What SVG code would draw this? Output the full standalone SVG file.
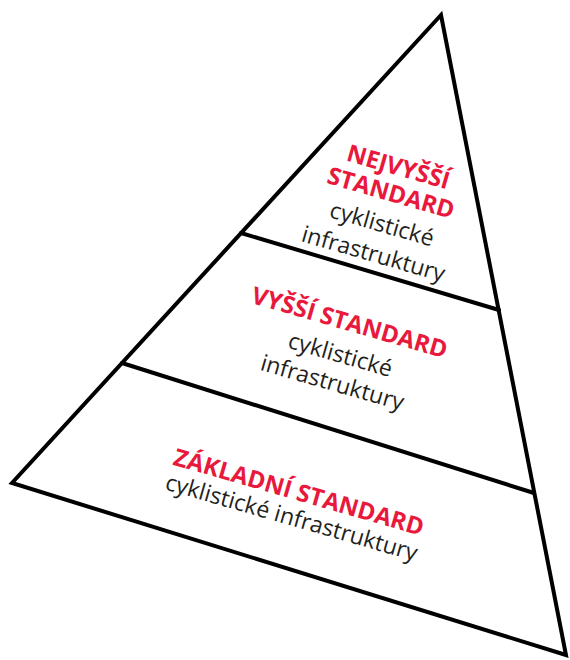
<svg xmlns="http://www.w3.org/2000/svg" width="570" height="660" viewBox="0 0 570 660">
<style>
.edge{fill:none;stroke:#000;stroke-width:4;stroke-linejoin:miter;stroke-linecap:round}
.red{font-family:"Open Sans",sans-serif;font-weight:700;font-size:24px;fill:#e8193c;text-anchor:middle}
.blk{font-family:"Open Sans",sans-serif;font-weight:400;font-size:23px;fill:#231f20;text-anchor:middle}
</style>
<rect width="570" height="660" fill="#fff"/>
<g id="connectors">
<polygon class="edge" points="441,15 12,483 566,655"/>
<line class="edge" x1="241" y1="233" x2="499" y2="310"/>
<line class="edge" x1="122" y1="363" x2="534" y2="493"/>
</g>
<g id="top" transform="rotate(16)">
<text class="red" x="429" y="59">NEJVYŠŠÍ</text>
<text class="red" x="429" y="86">STANDARD</text>
<text class="blk" x="429" y="118">cyklistické</text>
<text class="blk" x="429" y="149">infrastruktury</text>
</g>
<g id="middle" transform="rotate(16)">
<text class="red" x="425" y="222">VYŠŠÍ STANDARD</text>
<text class="blk" x="425" y="255">cyklistické</text>
<text class="blk" x="425" y="284">infrastruktury</text>
</g>
<g id="bottom" transform="rotate(16)">
<text class="red" x="423" y="399">ZÁKLADNÍ STANDARD</text>
<text class="blk" x="423" y="425">cyklistické infrastruktury</text>
</g>
</svg>
